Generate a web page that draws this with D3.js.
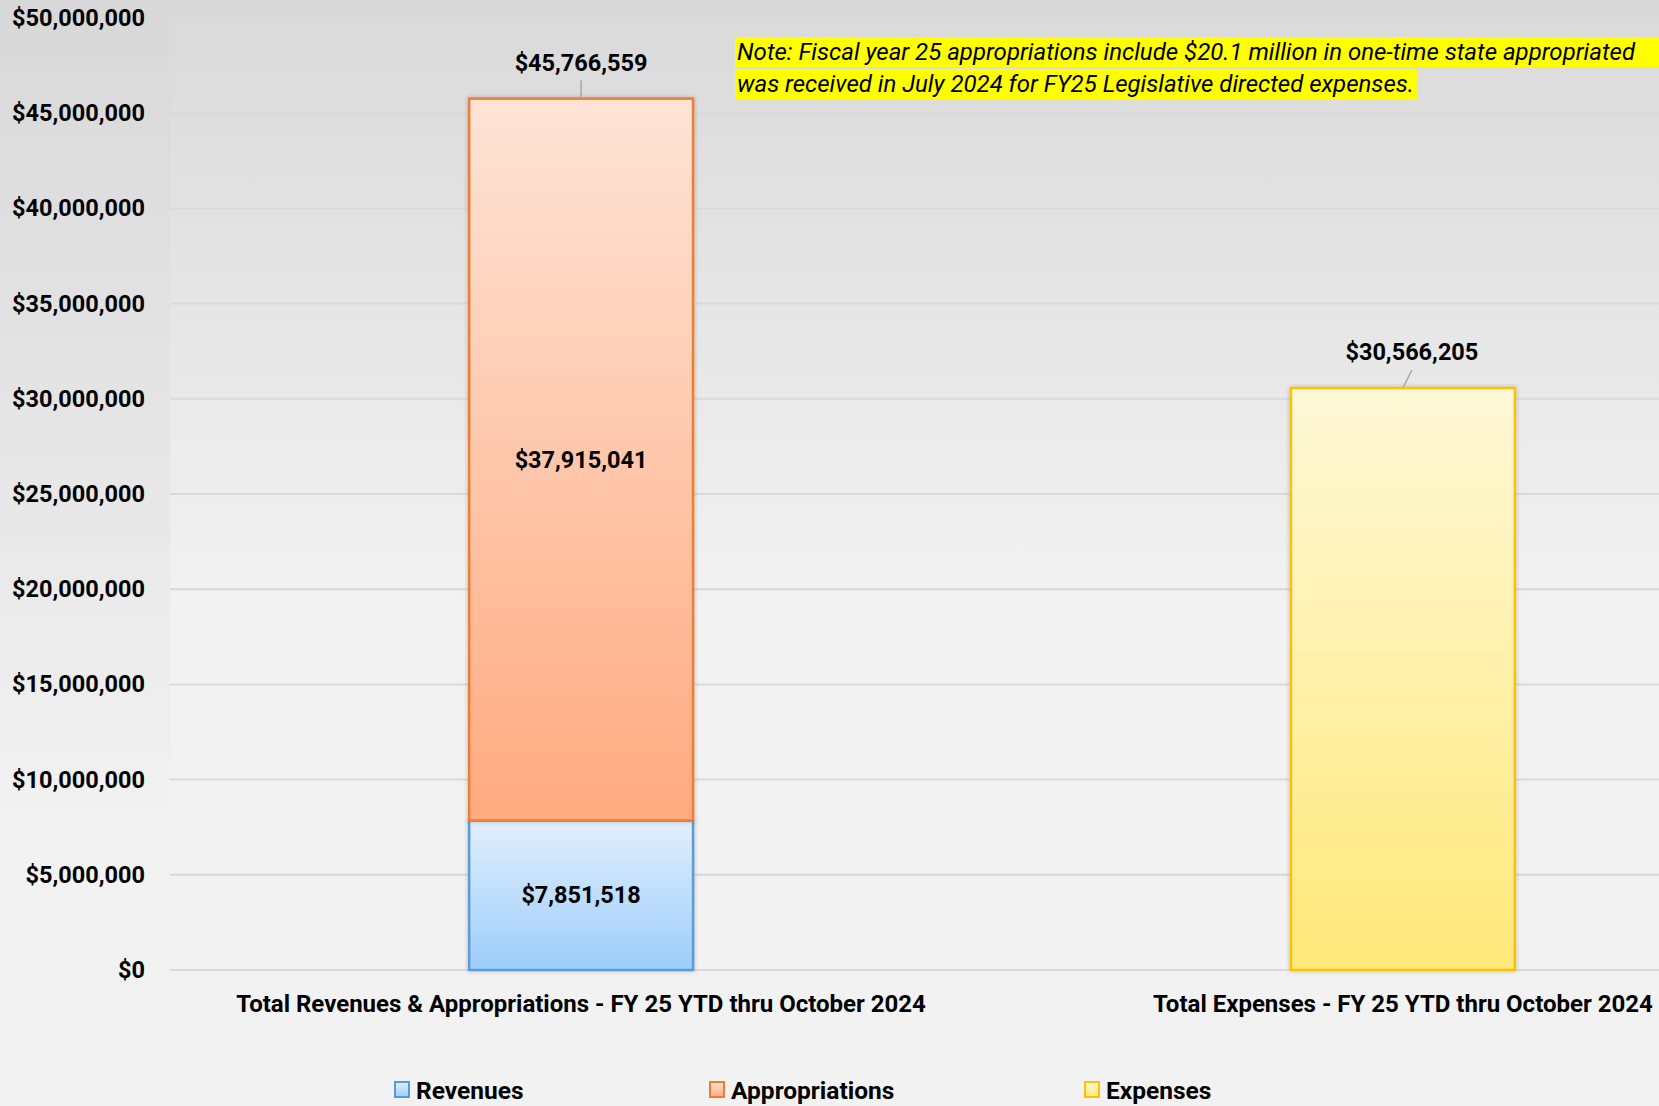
<!DOCTYPE html>
<html>
<head>
<meta charset="utf-8">
<script src="https://cdn.jsdelivr.net/npm/d3@7"></script>
<style>
  html, body { margin: 0; padding: 0; background: #f2f2f2; }
  svg { display: block; font-family: Roboto, 'Open Sans', sans-serif; }
</style>
</head>
<body>
<div id="chart"></div>
<script>
const categories = ['Total Revenues & Appropriations - FY 25 YTD thru October 2024', 'Total Expenses - FY 25 YTD thru October 2024']
const seriesNames = ['Revenues', 'Appropriations', 'Expenses']
const revenues = [7851518, 0]
const appropriations = [37915041, 0]
const expenses = [0, 30566205]
const totals = [45766559, 30566205]
const yTicks = [0, 5000000, 10000000, 15000000, 20000000, 25000000, 30000000, 35000000, 40000000, 45000000, 50000000]
const noteLines = [
  'Note: Fiscal year 25 appropriations include $20.1 million in one-time state appropriated',
  'was received in July 2024 for FY25 Legislative directed expenses.'
]

const chartWidth = 1659
const chartHeight = 1106
const plotLeft = 170
const plotTop = 18
const plotBottom = 970

const colors = {
  Revenues: { stroke: '#5b9bd5', top: '#e1effd', bottom: '#9ccdfb' },
  Appropriations: { stroke: '#ed7d31', top: '#fee4d7', bottom: '#ffaa80' },
  Expenses: { stroke: '#ffc000', top: '#fff8d8', bottom: '#ffe97a' }
}

const svg = d3
  .select('#chart')
  .append('svg')
  .attr('width', chartWidth)
  .attr('height', chartHeight)

const defs = svg.append('defs')

function vGradient(id, stops) {
  const g = defs
    .append('linearGradient')
    .attr('id', id)
    .attr('x1', 0).attr('y1', 0).attr('x2', 0).attr('y2', 1)
  stops.forEach(s => g.append('stop').attr('offset', s[0]).attr('stop-color', s[1]))
}
vGradient('bg-outer', [[0, '#d8d8d8'], [0.75, '#f2f2f2'], [1, '#f2f2f2']])
vGradient('bg-plot', [[0, '#dadada'], [0.62, '#f2f2f2'], [1, '#f2f2f2']])
seriesNames.forEach(name => {
  vGradient('grad-' + name, [[0, colors[name].top], [1, colors[name].bottom]])
})

const shadow = defs.append('filter').attr('id', 'bar-shadow').attr('x', '-10%').attr('y', '-10%').attr('width', '120%').attr('height', '120%')
shadow.append('feDropShadow').attr('dx', 0).attr('dy', 0).attr('stdDeviation', 2).attr('flood-color', '#000').attr('flood-opacity', 0.25)

// backgrounds
svg.append('rect').attr('width', chartWidth).attr('height', chartHeight).attr('fill', 'url(#bg-outer)')
svg.append('rect')
  .attr('x', plotLeft).attr('y', plotTop)
  .attr('width', chartWidth - plotLeft).attr('height', plotBottom - plotTop)
  .attr('fill', 'url(#bg-plot)')

// scales
const scaleX = d3
  .scaleBand()
  .domain(categories)
  .range([plotLeft, 1814])
  .paddingInner(0.7275)
  .paddingOuter(0.364)

const scaleY = d3
  .scaleLinear()
  .domain([0, 50000000])
  .range([plotBottom, plotTop])

const money = d3.format('$,')

// gridlines
svg.append('g')
  .selectAll('line')
  .data(yTicks)
  .enter()
  .append('line')
  .attr('x1', plotLeft)
  .attr('x2', chartWidth)
  .attr('y1', d => scaleY(d))
  .attr('y2', d => scaleY(d))
  .attr('stroke', '#d9d9d9')
  .attr('stroke-width', 2)

// y axis
const axisY = d3.axisLeft(scaleY).tickValues(yTicks).tickFormat(money).tickSize(0).tickPadding(0)
svg.append('g')
  .attr('class', 'y-axis')
  .attr('transform', 'translate(145,0)')
  .call(axisY)
  .call(g => g.select('.domain').remove())
  .selectAll('text')
  .attr('font-family', 'Roboto, sans-serif')
  .attr('font-size', 23.5)
  .attr('font-weight', 700)
  .attr('fill', '#000')

// x axis labels
const axisX = d3.axisBottom(scaleX).tickSize(0).tickPadding(0)
svg.append('g')
  .attr('class', 'x-axis')
  .attr('transform', 'translate(0,995)')
  .call(axisX)
  .call(g => g.select('.domain').remove())
  .selectAll('text')
  .attr('font-family', 'Roboto, sans-serif')
  .attr('font-size', 24)
  .attr('font-weight', 700)
  .attr('fill', '#000')

// stacked data
const rows = categories.map((c, i) => ({
  category: c,
  Revenues: revenues[i],
  Appropriations: appropriations[i],
  Expenses: expenses[i]
}))
const stacked = d3.stack().keys(seriesNames)(rows)

const bars = svg.append('g').attr('id', 'plot-area')
stacked.forEach(layer => {
  bars.append('g')
    .selectAll('rect')
    .data(layer.filter(d => d[1] - d[0] > 0))
    .enter()
    .append('rect')
    .attr('x', d => scaleX(d.data.category))
    .attr('y', d => scaleY(d[1]))
    .attr('width', scaleX.bandwidth())
    .attr('height', d => scaleY(d[0]) - scaleY(d[1]))
    .attr('fill', 'url(#grad-' + layer.key + ')')
    .attr('stroke', colors[layer.key].stroke)
    .attr('stroke-width', 2.5)
    .attr('filter', 'url(#bar-shadow)')
})

// segment labels
const segLabels = svg.append('g').attr('class', 'labels')
stacked.forEach(layer => {
  segLabels.append('g')
    .selectAll('text')
    .data(layer.filter(d => d[1] - d[0] > 0 && layer.key !== 'Expenses'))
    .enter()
    .append('text')
    .text(d => money(d[1] - d[0]))
    .attr('x', d => scaleX(d.data.category) + scaleX.bandwidth() / 2)
    .attr('y', d => (scaleY(d[0]) + scaleY(d[1])) / 2)
    .attr('dy', '0.35em')
    .attr('text-anchor', 'middle')
    .attr('font-size', 23.5)
    .attr('font-weight', 700)
})

// total labels with leader lines
const labelOffsets = [[0, 0], [9, 0]]
const totalG = svg.append('g').attr('class', 'totals')
totals.forEach((t, i) => {
  const cx = scaleX(categories[i]) + scaleX.bandwidth() / 2
  const top = scaleY(t)
  const lx = cx + labelOffsets[i][0]
  totalG.append('line')
    .attr('x1', lx).attr('y1', top - 18)
    .attr('x2', cx).attr('y2', top)
    .attr('stroke', '#a6a6a6')
    .attr('stroke-width', 1.5)
  totalG.append('text')
    .text(money(t))
    .attr('x', lx)
    .attr('y', top - 36)
    .attr('dy', '0.35em')
    .attr('text-anchor', 'middle')
    .attr('font-size', 23.5)
    .attr('font-weight', 700)
})

// note with yellow highlight (first line runs to the right edge)
const note = svg.append('g').attr('class', 'note')
noteLines.forEach((line, i) => {
  const g = note.append('g')
  const rect = g.append('rect').attr('fill', '#ffff00')
  const txt = g.append('text')
    .text(line)
    .attr('x', 737)
    .attr('y', 60 + i * 32)
    .attr('font-size', 24)
    .attr('font-style', 'italic')
    .attr('fill', '#000')
  const bb = txt.node().getBBox()
  const w = i === 0 ? chartWidth - 735 : bb.width + 5
  rect.attr('x', 735).attr('y', 37 + i * 32).attr('width', w).attr('height', 30)
})

// legend
const legendX = [395, 710, 1085]
const legend = svg.append('g').attr('class', 'legend')
seriesNames.forEach((name, i) => {
  legend.append('rect')
    .attr('x', legendX[i]).attr('y', 1082)
    .attr('width', 14).attr('height', 15)
    .attr('fill', 'url(#grad-' + name + ')')
    .attr('stroke', colors[name].stroke)
    .attr('stroke-width', 2)
  legend.append('text')
    .text(name)
    .attr('x', legendX[i] + 21)
    .attr('y', 1090)
    .attr('dy', '0.35em')
    .attr('font-size', 24.5)
    .attr('font-weight', 700)
})
</script>
</body>
</html>
